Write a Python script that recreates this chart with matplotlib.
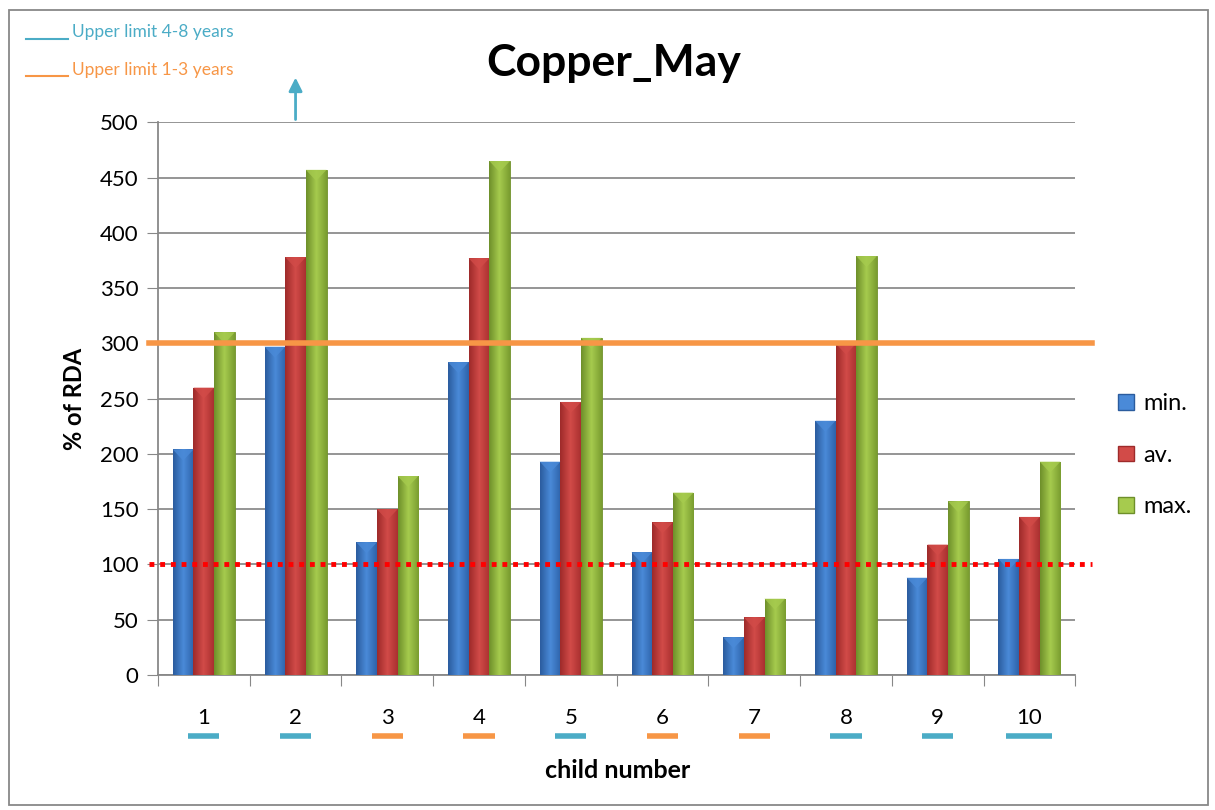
import numpy as np
import matplotlib.pyplot as plt
from matplotlib.patches import Rectangle
from matplotlib.lines import Line2D
from matplotlib.colors import LinearSegmentedColormap

plt.rcParams['font.family'] = ['Lato', 'DejaVu Sans']

# % of RDA per child
children = ['1', '2', '3', '4', '5', '6', '7', '8', '9', '10']
min_vals = [204, 297, 120, 283, 193, 111, 34, 230, 88, 105]
av_vals = [260, 378, 150, 377, 247, 138, 52, 300, 118, 143]
max_vals = [310, 457, 180, 465, 305, 165, 69, 379, 157, 193]
# which upper limit applies to each child (4-8 years / 1-3 years)
age_group = ['4-8', '4-8', '1-3', '1-3', '4-8', '1-3', '1-3', '4-8', '4-8', '4-8']
upper_1_3 = 300
rda_line = 100

teal = '#4BACC6'
orange = '#F79646'
group_colors = {'4-8': teal, '1-3': orange}

series = [
    ('min.', min_vals, ['#2B5C9E', '#4A8AD8', '#2E63AA']),
    ('av.', av_vals, ['#9E2A2A', '#D24B48', '#A93030']),
    ('max.', max_vals, ['#6E8F2A', '#A6CB4E', '#7A9D30']),
]

fig = plt.figure(figsize=(12.15, 8.1), dpi=100)
ax = fig.add_axes([0.130, 0.1667, 0.755, 0.6823])

x = np.arange(len(children))
w = 0.225
legend_handles = []
for i, (name, vals, cols) in enumerate(series):
    cmap = LinearSegmentedColormap.from_list(name, cols)
    grad = np.linspace(0, 1, 64).reshape(1, -1)
    bars = ax.bar(x + (i - 1) * w, vals, width=w, color=cols[1],
                  edgecolor=cols[0], linewidth=0.6, zorder=3)
    for b in bars:
        x0, y0 = b.get_x(), b.get_y()
        im = ax.imshow(grad, cmap=cmap, aspect='auto', zorder=3.5,
                       extent=[x0, x0 + b.get_width(), y0, y0 + b.get_height()])
        im.set_clip_path(b)
        # bevelled cap
        ax.fill([x0, x0 + b.get_width(), x0 + b.get_width() / 2],
                [b.get_height(), b.get_height(), b.get_height() - 10],
                color=cols[1], alpha=0.8, zorder=4, lw=0)
    legend_handles.append(Rectangle((0, 0), 1, 1, facecolor=cols[1], edgecolor=cols[0]))

ax.set_xlim(-0.5, len(children) - 0.5)
ax.set_ylim(0, 500)
ax.set_yticks(np.arange(0, 501, 50))
ax.tick_params(axis='y', labelsize=16, length=8, color='#888888', pad=6)
ax.set_xticks(np.arange(-0.5, len(children), 1))
ax.set_xticklabels([])
ax.tick_params(axis='x', length=8, color='#888888')
ax.grid(axis='y', color='#8C8C8C', linewidth=1.3, zorder=0)
for s in ['top', 'right']:
    ax.spines[s].set_visible(False)
for s in ['left', 'bottom']:
    ax.spines[s].set_color('#888888')
    ax.spines[s].set_linewidth(1.3)

# reference lines
ax.plot([-0.6, 9.68], [upper_1_3, upper_1_3], color=orange, lw=4,
        zorder=5, clip_on=False)
ax.plot([-0.6, 9.68], [rda_line, rda_line], color='#FF0000', lw=3.5,
        ls=(0, (1, 1.2)), zorder=5, clip_on=False)

# child numbers with age-group markers
for i, (c, g) in enumerate(zip(children, age_group)):
    ax.text(i, -39, c, ha='center', va='center', fontsize=16)
    half = 0.25 if len(c) > 1 else 0.17
    ax.plot([i - half, i + half], [-55, -55], color=group_colors[g], lw=4,
            clip_on=False, solid_capstyle='butt')

# arrow for values above the axis
ax.annotate('', xy=(1, 543), xytext=(1, 500),
            arrowprops=dict(arrowstyle='-|>', color=teal, lw=2,
                            mutation_scale=20), annotation_clip=False)

ax.set_ylabel('% of RDA', fontsize=17, fontweight='bold', labelpad=10)
fig.text(0.508, 0.049, 'child number', ha='center', va='center',
         fontsize=18, fontweight='bold')
fig.text(0.505, 0.922, 'Copper_May', ha='center', va='center',
         fontsize=32, fontweight='bold')

# key for the age-group markers
for yy, label, col in [(0.960, 'Upper limit 4-8 years', teal),
                       (0.914, 'Upper limit 1-3 years', orange)]:
    fig.add_artist(Line2D([0.021, 0.056], [yy - 0.008, yy - 0.008], color=col,
                          lw=1.5, transform=fig.transFigure))
    fig.text(0.059, yy, label, color=col, fontsize=12.5, va='center')

fig.legend(legend_handles, [s[0] for s in series], loc='center left',
           bbox_to_anchor=(0.903, 0.438), frameon=False, fontsize=17,
           handlelength=0.65, handleheight=0.65, labelspacing=1.3,
           handletextpad=0.4)

fig.add_artist(Rectangle((0.007, 0.006), 0.987, 0.982, transform=fig.transFigure,
                         fill=False, edgecolor='#888888', lw=1.3))

fig.savefig('out.png', dpi=100)
